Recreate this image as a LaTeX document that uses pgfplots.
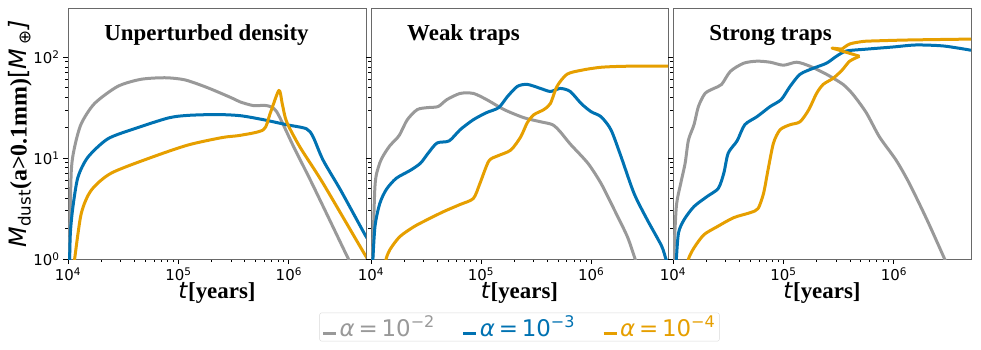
\documentclass[border=0pt]{standalone}
\usepackage{fontspec}
\setmainfont{Liberation Serif}
\newfontfamily\dejavu{DejaVu Sans}
\usepackage{pgfplots}
\pgfplotsset{compat=1.18}
\definecolor{cgray}{RGB}{153,153,153}
\definecolor{cblue}{RGB}{0,114,178}
\definecolor{corange}{RGB}{230,159,0}
\definecolor{spine}{RGB}{105,105,105}
\pgfplotsset{
  mypanel/.style={
    scale only axis, height=250bp,
    xmin=1e4, xmax=5e6, ymin=1, ymax=300,
    xtick={1e4,1e5,1e6},
    xticklabels={10\textsuperscript{4},10\textsuperscript{5},10\textsuperscript{6}},
    ytick={1,10,100},
    tick align=outside, tick pos=left,
    major tick length=5bp, minor tick length=3bp,
    every tick/.style={black, line width=0.8bp},
    axis line style={spine, line width=1bp},
    tick label style={font=\fontsize{15}{15}\dejavu},
    every axis plot/.append style={line width=3bp, no marks, line join=round, smooth, tension=0.45},
    xlabel={\fontsize{23}{23}\selectfont{\dejavu\itshape t}\textbf{[years]}},
    xlabel style={at={(axis description cs:0.5,-0.136)}, anchor=center},
  },
}
\tikzset{ttl/.style={anchor=west, font=\fontsize{23}{23}\selectfont\bfseries}}
\begin{document}
\begin{tikzpicture}[x=1bp,y=1bp]
\useasboundingbox (0,0) rectangle (981,349);
% ---------------- Panel 1
\begin{axis}[xmode=log, ymode=log, mypanel, width=298bp, at={(68bp,90bp)}, anchor=south west,
  yticklabels={10\textsuperscript{0},10\textsuperscript{1},10\textsuperscript{2}},
  ylabel={\fontsize{24}{24}\selectfont{\dejavu\itshape M}\textsubscript{\dejavu dust}\textbf{(a>0.1mm)}{\dejavu[\itshape M\,\textsubscript{\upshape ⊕}]}},
  ylabel style={at={(axis description cs:-0.161,0.5)}, anchor=center},
]
\addplot[cgray] coordinates {
(1.03e4,0.8) (1.04e4,2.0) (1.072e4,7.6) (1.148e4,12.9) (1.318e4,21.9) (1.738e4,34.7)
(2.818e4,51.3) (4.571e4,60.3) (7.586e4,62.5) (1.148e5,59.5) (1.820e5,50.0) (2.951e5,40.0)
(3.631e5,36.0) (4.786e5,33.1) (6.310e5,33.1) (7.762e5,28.8) (1.096e6,13.2) (1.585e6,5.9)
(2.239e6,2.7) (3.467e6,1.0) (3.98e6,0.76)};
\addplot[cblue] coordinates {
(1.03e4,0.8) (1.05e4,1.8) (1.109e4,3.31) (1.230e4,6.46) (1.514e4,10.2) (2.291e4,15.5)
(3.981e4,19.5) (8.128e4,25.0) (1.230e5,26.5) (2.239e5,27.0) (3.631e5,26.3) (5.888e5,24.0)
(9.550e5,21.4) (1.445e6,19.5) (1.660e6,16.2) (2.042e6,9.55) (2.951e6,4.79) (4.898e6,1.74)
(5.2e6,1.6)};
\addplot[corange] coordinates {
(1.12e4,0.8) (1.148e4,1.0) (1.318e4,2.82) (1.622e4,4.79) (2.455e4,7.08) (5.754e4,10.2)
(1.230e5,13.5) (2.512e5,16.0) (3.631e5,16.8) (5.888e5,19.1) (6.761e5,27.5) (8.128e5,46.8)
(8.710e5,34.7) (9.550e5,22.9) (1.259e6,12.9) (2.042e6,5.62) (4.898e6,1.1) (5.2e6,1.03)};
\node[ttl] at (rel axis cs:0.11,0.895) {Unperturbed density};
\end{axis}
% ---------------- Panel 2
\begin{axis}[xmode=log, ymode=log, mypanel, width=297bp, at={(371bp,90bp)}, anchor=south west,
  yticklabels={},
  legend columns=3,
  legend style={at={(axis description cs:0.5,-0.272)}, anchor=center,
    draw=black!15, rounded corners=2bp, inner xsep=2bp, inner ysep=1bp,
    font=\fontsize{23}{23}\dejavu,
    /tikz/every even column/.append style={column sep=25bp}},
  legend image code/.code={\draw[#1,sharp plot] (0bp,-6bp) -- (13bp,-6bp);},
]
\addplot[cgray] coordinates {
(1.03e4,0.8) (1.086e4,5.25) (1.175e4,8.32) (1.288e4,10.5) (1.479e4,13.2) (1.660e4,15.1)
(1.820e4,17.0) (2.138e4,24.0) (2.630e4,30.2) (3.236e4,31.6) (4.074e4,32.4) (4.898e4,38.0)
(6.457e4,43.7) (8.511e4,43.7) (1.122e5,38.0) (1.622e5,30.2) (2.455e5,25.1) (3.467e5,22.9)
(4.467e5,21.4) (5.248e5,18.2) (6.457e5,13.8) (9.333e5,8.91) (1.230e6,5.62) (1.622e6,3.09)
(2.138e6,1.66) (2.512e6,1.0) (2.818e6,0.71)};
\addlegendentry{\textcolor{cgray}{{\itshape α}\,=\,10\textsuperscript{−2}}}
\addplot[cblue] coordinates {
(1.03e4,0.8) (1.086e4,2.09) (1.202e4,3.55) (1.380e4,4.90) (1.698e4,6.31) (2.291e4,7.59)
(2.818e4,8.91) (3.311e4,11.2) (3.981e4,14.1) (5.129e4,14.8) (6.457e4,19.1) (8.511e4,24.0)
(1.122e5,28.2) (1.445e5,31.6) (1.738e5,40.7) (2.138e5,51.3) (2.630e5,53.7) (3.467e5,49.0)
(4.266e5,45.7) (5.248e5,49.0) (6.457e5,45.7) (8.128e5,34.7) (1.0e6,28.8) (1.230e6,25.7)
(1.514e6,19.1) (1.862e6,10.5) (2.455e6,4.47) (3.236e6,2.45) (4.365e6,1.35) (4.786e6,1.0)
(5.25e6,0.79)};
\addlegendentry{\textcolor{cblue}{{\itshape α}\,=\,10\textsuperscript{−3}}}
\addplot[corange] coordinates {
(1.318e4,0.79) (1.371e4,1.0) (1.479e4,1.23) (1.820e4,1.66) (2.455e4,2.09) (3.236e4,2.45)
(4.571e4,2.95) (6.457e4,3.47) (8.511e4,3.98) (9.772e4,5.62) (1.175e5,9.33) (1.413e5,10.5)
(1.862e5,12.0) (2.291e5,16.2) (2.630e5,22.4) (3.020e5,26.9) (3.715e5,30.2) (4.266e5,34.7)
(4.898e5,51.3) (6.026e5,67.6) (8.128e5,74.1) (1.230e6,79.4) (2.138e6,81.3) (5.129e6,81.3)};
\addlegendentry{\textcolor{corange}{{\itshape α}\,=\,10\textsuperscript{−4}}}
\node[ttl] at (rel axis cs:0.11,0.895) {Weak traps};
\end{axis}
% ---------------- Panel 3
\begin{axis}[xmode=log, ymode=log, mypanel, width=298bp, at={(673bp,90bp)}, anchor=south west,
  yticklabels={},
]
\addplot[cgray] coordinates {
(1.01e4,0.8) (1.014e4,1.0) (1.072e4,3.31) (1.175e4,5.62) (1.288e4,8.91) (1.380e4,15.1)
(1.549e4,21.4) (1.698e4,32.4) (1.950e4,43.7) (2.344e4,49.0) (2.754e4,53.7) (3.311e4,72.4)
(4.365e4,87.1) (5.754e4,91.2) (7.586e4,89.1) (1.0e5,83.2) (1.318e5,89.1) (1.738e5,81.3)
(2.455e5,67.6) (3.467e5,53.7) (4.266e5,42.7) (5.623e5,28.2) (7.413e5,16.2) (1.047e6,9.55)
(1.380e6,5.62) (1.995e6,2.45) (2.884e6,1.0) (3.16e6,0.79)};
\addplot[cblue] coordinates {
(1.06e4,0.8) (1.072e4,1.0) (1.122e4,1.82) (1.259e4,2.45) (1.549e4,3.31) (2.042e4,4.17)
(2.570e4,5.01) (2.884e4,7.08) (3.162e4,11.2) (3.802e4,14.8) (4.467e4,21.4) (5.754e4,25.7)
(7.586e4,32.4) (9.550e4,38.0) (1.148e5,51.3) (1.413e5,67.6) (1.862e5,77.6) (2.455e5,87.1)
(3.020e5,102) (3.715e5,115) (5.623e5,120) (9.772e5,126) (1.585e6,132) (2.818e6,129)
(5.012e6,117)};
\addplot[corange] coordinates {
(1.349e4,0.79) (1.380e4,1.0) (1.549e4,1.29) (1.905e4,1.74) (2.512e4,2.09) (3.548e4,2.57)
(5.012e4,2.88) (5.888e4,3.16) (6.607e4,4.47) (7.244e4,7.59) (8.128e4,14.1) (9.333e4,19.1)
(1.148e5,21.4) (1.413e5,22.9) (1.698e5,30.2) (1.995e5,43.7) (2.291e5,53.7) (2.818e5,61.7)
(3.388e5,74.1) (3.981e5,91.2) (4.898e5,102)};
\addplot[corange, sharp plot] coordinates {
(4.898e5,102) (2.754e5,123) (3.388e5,120)};
\addplot[corange] coordinates {
(3.388e5,120) (3.981e5,135) (5.248e5,143) (6.918e5,145) (1.380e6,148) (5.012e6,151)};
\node[ttl] at (rel axis cs:0.11,0.895) {Strong traps};
\end{axis}
\end{tikzpicture}
\end{document}
